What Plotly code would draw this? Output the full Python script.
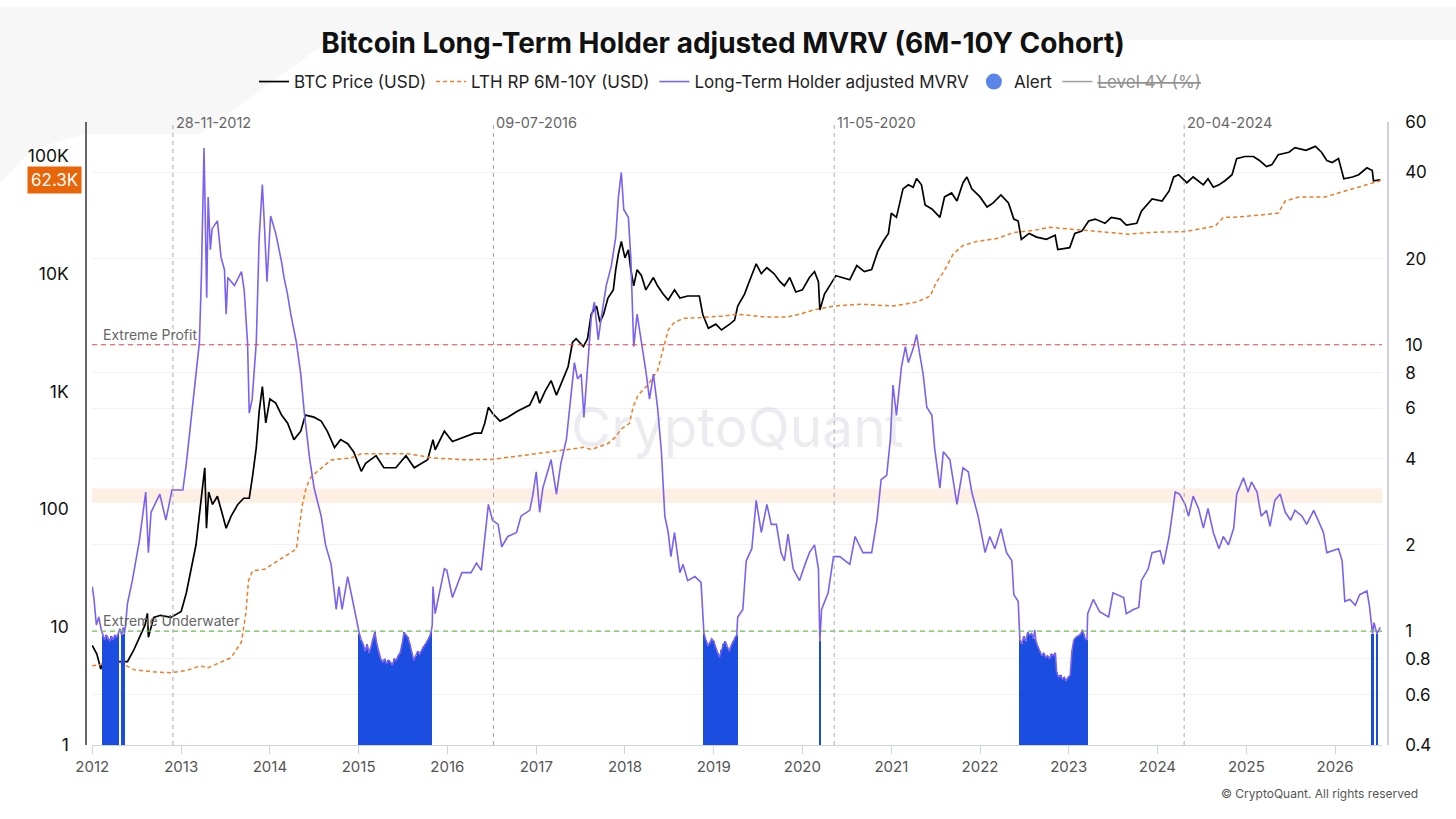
import math
import plotly.graph_objects as go

# ---- data ----
# BTC price (USD), left log axis
btc_price = [
    ("2012-01-01", 7.0), ("2012-01-20", 5.9), ("2012-02-05", 4.4), ("2012-02-20", 5.5),
    ("2012-04-20", 5.1), ("2012-05-25", 5.1), ("2012-06-20", 6.4), ("2012-07-13", 8.2),
    ("2012-08-05", 10.4), ("2012-08-15", 13.1), ("2012-08-19", 8.2), ("2012-09-10", 12.1),
    ("2012-10-08", 12.6), ("2012-11-20", 12.1), ("2013-01-01", 13.6), ("2013-01-22", 19.5),
    ("2013-02-10", 31), ("2013-03-03", 50), ("2013-03-18", 94), ("2013-03-28", 151),
    ("2013-04-08", 225), ("2013-04-15", 69), ("2013-04-24", 140), ("2013-05-10", 110),
    ("2013-05-30", 129), ("2013-06-15", 98), ("2013-07-05", 69), ("2013-07-25", 87),
    ("2013-08-22", 110), ("2013-09-15", 124), ("2013-10-08", 124), ("2013-10-22", 193),
    ("2013-11-06", 333), ("2013-11-18", 680), ("2013-12-01", 1100), ("2013-12-15", 540),
    ("2014-01-01", 861), ("2014-01-25", 795), ("2014-02-18", 630), ("2014-03-15", 537),
    ("2014-04-10", 390), ("2014-05-08", 460), ("2014-05-27", 630), ("2014-07-01", 605),
    ("2014-07-31", 560), ("2014-08-25", 460), ("2014-09-24", 334), ("2014-10-19", 390),
    ("2014-11-17", 360), ("2014-12-12", 307), ("2015-01-12", 210), ("2015-01-30", 245),
    ("2015-03-14", 285), ("2015-04-15", 225), ("2015-06-03", 225), ("2015-07-15", 285),
    ("2015-08-18", 225), ("2015-10-12", 263), ("2015-11-03", 390), ("2015-11-12", 320),
    ("2015-12-20", 460), ("2016-01-22", 376), ("2016-03-10", 407), ("2016-04-22", 442),
    ("2016-05-20", 442), ("2016-06-03", 537), ("2016-06-18", 733), ("2016-07-05", 653),
    ("2016-08-05", 560), ("2016-09-06", 604), ("2016-10-15", 680), ("2016-12-05", 766),
    ("2017-01-01", 1000), ("2017-01-15", 795), ("2017-02-06", 1000), ("2017-03-03", 1236),
    ("2017-03-25", 930), ("2017-04-20", 1280), ("2017-05-12", 1620), ("2017-05-30", 2600),
    ("2017-06-14", 2800), ("2017-07-14", 2400), ("2017-07-31", 2800), ("2017-08-15", 4520),
    ("2017-09-06", 5300), ("2017-09-20", 3880), ("2017-10-05", 4520), ("2017-10-23", 6200),
    ("2017-11-14", 7270), ("2017-11-24", 10800), ("2017-12-05", 14700), ("2017-12-17", 18700),
    ("2018-01-01", 13600), ("2018-01-15", 15900), ("2018-01-25", 10800), ("2018-02-06", 7870),
    ("2018-02-20", 10800), ("2018-03-10", 9600), ("2018-03-28", 7270), ("2018-04-28", 9250),
    ("2018-05-15", 7870), ("2018-06-07", 6700), ("2018-06-28", 5970), ("2018-07-24", 7270),
    ("2018-08-15", 6200), ("2018-09-16", 6450), ("2018-11-03", 6450), ("2018-11-17", 4520),
    ("2018-12-10", 3430), ("2019-01-10", 3720), ("2019-02-02", 3320), ("2019-03-08", 3720),
    ("2019-03-28", 4030), ("2019-04-10", 5300), ("2019-05-08", 6700), ("2019-05-22", 8000),
    ("2019-06-25", 12100), ("2019-07-16", 10000), ("2019-08-08", 11200), ("2019-09-06", 10000),
    ("2019-10-01", 8530), ("2019-10-19", 7870), ("2019-11-10", 9250), ("2019-12-05", 6970),
    ("2020-01-01", 7270), ("2020-01-30", 9250), ("2020-02-20", 10400), ("2020-03-07", 8530),
    ("2020-03-13", 4900), ("2020-04-01", 6700), ("2020-04-22", 7870), ("2020-05-18", 9600),
    ("2020-07-14", 8850), ("2020-08-12", 11700), ("2020-09-12", 10400), ("2020-10-12", 10800),
    ("2020-11-06", 15400), ("2020-11-28", 18700), ("2020-12-20", 21900), ("2021-01-01", 32500),
    ("2021-01-22", 30000), ("2021-02-18", 52300), ("2021-03-12", 56600), ("2021-04-01", 54000),
    ("2021-04-15", 64000), ("2021-05-05", 56600), ("2021-05-20", 38200), ("2021-06-17", 35300),
    ("2021-07-20", 30000), ("2021-08-08", 44700), ("2021-09-06", 48300), ("2021-09-28", 41300),
    ("2021-10-23", 59000), ("2021-11-08", 66000), ("2021-11-28", 52300), ("2022-01-01", 44700),
    ("2022-01-30", 36700), ("2022-02-24", 39800), ("2022-03-28", 46500), ("2022-04-28", 39800),
    ("2022-05-20", 29000), ("2022-06-07", 27900), ("2022-06-20", 19500), ("2022-07-22", 21900),
    ("2022-08-22", 20400), ("2022-10-01", 19500), ("2022-11-06", 21100), ("2022-11-17", 16000),
    ("2023-01-05", 16600), ("2023-01-26", 21900), ("2023-02-24", 22900), ("2023-03-24", 27900),
    ("2023-04-20", 29000), ("2023-05-30", 26700), ("2023-06-25", 30000), ("2023-08-01", 29000),
    ("2023-08-26", 25800), ("2023-10-08", 26700), ("2023-10-27", 33900), ("2023-12-10", 43000),
    ("2024-01-20", 41300), ("2024-02-18", 50200), ("2024-03-08", 66000), ("2024-03-28", 69000),
    ("2024-05-01", 59000), ("2024-05-27", 66000), ("2024-07-08", 56600), ("2024-07-27", 63700),
    ("2024-08-18", 54000), ("2024-09-10", 56600), ("2024-10-05", 61300), ("2024-11-03", 69000),
    ("2024-11-22", 94500), ("2024-12-25", 98500), ("2025-01-30", 98500), ("2025-02-24", 91000),
    ("2025-03-25", 80800), ("2025-04-16", 84000), ("2025-05-12", 102000), ("2025-06-25", 107000),
    ("2025-07-20", 117000), ("2025-09-03", 111000), ("2025-10-12", 120000), ("2025-11-06", 107000),
    ("2025-11-28", 91000), ("2025-12-20", 87500), ("2026-01-15", 94500), ("2026-02-06", 63700),
    ("2026-03-14", 66000), ("2026-04-08", 69000), ("2026-05-12", 79000), ("2026-06-03", 74800),
    ("2026-06-08", 61300), ("2026-07-06", 62300),
]

# LTH realized price 6M-10Y (USD), left log axis
lth_rp = [
    ("2012-01-01", 4.7), ("2012-04-20", 5.07), ("2012-06-20", 4.36), ("2012-09-12", 4.17),
    ("2012-11-20", 4.1), ("2013-01-25", 4.3), ("2013-03-22", 4.7), ("2013-04-20", 4.5),
    ("2013-05-30", 4.9), ("2013-07-25", 5.5), ("2013-09-06", 7.5), ("2013-09-24", 13.1),
    ("2013-10-05", 24.8), ("2013-10-22", 30), ("2013-12-10", 31), ("2014-02-03", 36.6),
    ("2014-03-28", 42.7), ("2014-04-20", 46), ("2014-05-01", 69), ("2014-05-15", 110),
    ("2014-05-30", 152), ("2014-06-18", 186), ("2014-07-16", 210), ("2014-09-10", 262),
    ("2014-12-01", 273), ("2015-01-12", 296), ("2015-04-15", 296), ("2015-07-20", 296),
    ("2015-09-12", 285), ("2015-10-27", 273), ("2016-03-10", 263), ("2016-07-01", 265),
    ("2016-10-30", 285), ("2017-02-18", 307), ("2017-05-12", 321), ("2017-07-20", 336),
    ("2017-08-15", 321), ("2017-10-23", 361), ("2017-11-21", 407), ("2017-12-17", 480),
    ("2018-01-20", 537), ("2018-02-03", 733), ("2018-02-24", 930), ("2018-04-05", 1136),
    ("2018-05-15", 1500), ("2018-06-07", 2230), ("2018-06-28", 3320), ("2018-07-24", 3880),
    ("2018-09-02", 4170), ("2018-11-10", 4230), ("2019-02-02", 4350), ("2019-04-10", 4520),
    ("2019-05-30", 4400), ("2019-08-08", 4270), ("2019-10-27", 4270), ("2019-12-20", 4520),
    ("2020-02-14", 4900), ("2020-05-08", 5300), ("2020-08-26", 5500), ("2021-01-08", 5300),
    ("2021-04-15", 5730), ("2021-06-10", 6450), ("2021-07-06", 8500), ("2021-08-05", 10400),
    ("2021-09-13", 14700), ("2021-10-23", 17300), ("2021-12-17", 18700), ("2022-03-10", 19800),
    ("2022-05-20", 22300), ("2022-08-08", 23200), ("2022-10-15", 24700), ("2022-12-20", 24100),
    ("2023-03-03", 23400), ("2023-05-30", 22400), ("2023-09-03", 21600), ("2023-12-10", 22400),
    ("2024-04-22", 22700), ("2024-06-18", 23800), ("2024-08-26", 25300), ("2024-09-28", 30000),
    ("2024-11-14", 30000), ("2025-02-20", 31300), ("2025-05-12", 32600), ("2025-06-10", 41300),
    ("2025-08-05", 44700), ("2025-11-20", 44700), ("2026-01-15", 48300), ("2026-04-08", 54000),
    ("2026-07-06", 61300),
]

# Long-Term Holder adjusted MVRV, right log axis
lth_mvrv = [
    ("2012-01-01", 1.43), ("2012-01-08", 1.30), ("2012-01-18", 1.05), ("2012-01-28", 1.12),
    ("2012-02-07", 1.01), ("2012-02-14", 0.96), ("2012-02-21", 0.93), ("2012-02-28", 0.97),
    ("2012-03-06", 0.94), ("2012-03-13", 0.92), ("2012-03-20", 0.96), ("2012-03-27", 0.93),
    ("2012-04-03", 0.97), ("2012-04-10", 0.95), ("2012-04-17", 0.98), ("2012-04-24", 1.02),
    ("2012-05-01", 0.97), ("2012-05-08", 1.03), ("2012-05-12", 0.98), ("2012-05-17", 1.05),
    ("2012-05-25", 1.25), ("2012-06-14", 1.50), ("2012-07-13", 2.07), ("2012-08-08", 3.06),
    ("2012-08-19", 1.88), ("2012-08-30", 2.6), ("2012-10-05", 3.01), ("2012-10-30", 2.44),
    ("2012-11-24", 3.11), ("2013-01-08", 3.11), ("2013-01-22", 3.84), ("2013-02-10", 5.33),
    ("2013-03-03", 7.9), ("2013-03-17", 10.2), ("2013-03-25", 17.2), ("2013-04-05", 48.7),
    ("2013-04-16", 14.6), ("2013-04-22", 32.8), ("2013-05-01", 21.5), ("2013-05-08", 25.4),
    ("2013-05-30", 27.1), ("2013-06-14", 20.2), ("2013-06-28", 18.3), ("2013-07-05", 12.8),
    ("2013-07-12", 17.2), ("2013-08-08", 16.1), ("2013-09-06", 18.0), ("2013-09-17", 15.6),
    ("2013-10-01", 10.2), ("2013-10-08", 5.77), ("2013-10-20", 6.46), ("2013-11-06", 10.2),
    ("2013-11-18", 23.7), ("2013-12-01", 36.3), ("2013-12-08", 27.8), ("2013-12-20", 16.6),
    ("2014-01-04", 28.2), ("2014-01-25", 24.5), ("2014-02-18", 19.5), ("2014-02-28", 17.2),
    ("2014-03-14", 15.1), ("2014-03-28", 12.8), ("2014-04-20", 10.2), ("2014-05-08", 7.9),
    ("2014-05-22", 5.86), ("2014-06-14", 3.97), ("2014-07-02", 3.16), ("2014-07-31", 2.52),
    ("2014-08-18", 2.0), ("2014-09-10", 1.71), ("2014-10-01", 1.19), ("2014-10-12", 1.43),
    ("2014-10-25", 1.19), ("2014-11-17", 1.55), ("2014-12-05", 1.31), ("2014-12-20", 1.12),
    ("2015-01-04", 0.98), ("2015-01-12", 0.93), ("2015-01-20", 0.90), ("2015-01-28", 0.85),
    ("2015-02-05", 0.90), ("2015-02-13", 0.84), ("2015-02-21", 0.88), ("2015-03-01", 0.94),
    ("2015-03-09", 0.99), ("2015-03-17", 0.90), ("2015-03-25", 0.84), ("2015-04-02", 0.80),
    ("2015-04-10", 0.78), ("2015-04-18", 0.80), ("2015-04-26", 0.77), ("2015-05-04", 0.79),
    ("2015-05-12", 0.78), ("2015-05-20", 0.76), ("2015-05-28", 0.80), ("2015-06-05", 0.79),
    ("2015-06-13", 0.82), ("2015-06-21", 0.84), ("2015-06-29", 0.90), ("2015-07-07", 0.99),
    ("2015-07-15", 0.97), ("2015-07-23", 0.95), ("2015-07-31", 0.90), ("2015-08-08", 0.84),
    ("2015-08-16", 0.79), ("2015-08-24", 0.82), ("2015-09-01", 0.85), ("2015-09-09", 0.83),
    ("2015-09-17", 0.86), ("2015-09-25", 0.88), ("2015-10-03", 0.90), ("2015-10-11", 0.92),
    ("2015-10-19", 0.95), ("2015-10-26", 0.99), ("2015-10-31", 1.05), ("2015-11-03", 1.43),
    ("2015-11-12", 1.15), ("2015-12-20", 1.65), ("2015-12-30", 1.63), ("2016-01-22", 1.31),
    ("2016-03-01", 1.60), ("2016-04-08", 1.60), ("2016-04-30", 1.73), ("2016-05-20", 1.63),
    ("2016-06-03", 2.14), ("2016-06-18", 2.77), ("2016-07-05", 2.44), ("2016-07-28", 2.36),
    ("2016-08-12", 1.97), ("2016-09-06", 2.14), ("2016-10-12", 2.21), ("2016-10-30", 2.52),
    ("2016-12-05", 2.64), ("2016-12-17", 2.96), ("2017-01-01", 3.60), ("2017-01-15", 2.60),
    ("2017-01-28", 3.16), ("2017-03-03", 3.97), ("2017-03-25", 3.01), ("2017-04-12", 3.84),
    ("2017-05-05", 4.67), ("2017-05-20", 6.05), ("2017-06-07", 8.67), ("2017-06-20", 7.6),
    ("2017-07-05", 7.9), ("2017-07-16", 5.58), ("2017-07-31", 8.1), ("2017-08-15", 12.4),
    ("2017-08-28", 14.1), ("2017-09-13", 10.4), ("2017-09-25", 12.4), ("2017-10-16", 16.1),
    ("2017-11-06", 18.9), ("2017-11-24", 23.8), ("2017-12-05", 32.8), ("2017-12-17", 40),
    ("2017-12-27", 29.7), ("2018-01-15", 27.9), ("2018-01-25", 20.2), ("2018-02-06", 9.86),
    ("2018-02-20", 12.8), ("2018-03-10", 10.2), ("2018-03-28", 8.1), ("2018-04-12", 6.46),
    ("2018-04-28", 7.9), ("2018-05-15", 6.05), ("2018-05-31", 4.23), ("2018-06-14", 2.52),
    ("2018-06-28", 2.21), ("2018-07-09", 1.82), ("2018-07-24", 2.21), ("2018-08-15", 1.60),
    ("2018-08-28", 1.71), ("2018-09-16", 1.50), ("2018-10-16", 1.55), ("2018-11-10", 1.48),
    ("2018-11-22", 0.98), ("2018-11-30", 0.93), ("2018-12-08", 0.89), ("2018-12-16", 0.91),
    ("2018-12-24", 0.94), ("2019-01-01", 0.92), ("2019-01-09", 0.87), ("2019-01-17", 0.84),
    ("2019-01-25", 0.81), ("2019-02-02", 0.86), ("2019-02-10", 0.90), ("2019-02-18", 0.92),
    ("2019-02-26", 0.88), ("2019-03-06", 0.85), ("2019-03-14", 0.89), ("2019-03-22", 0.92),
    ("2019-03-30", 0.95), ("2019-04-06", 0.97), ("2019-04-10", 1.12), ("2019-05-01", 1.19),
    ("2019-05-15", 1.76), ("2019-06-07", 1.94), ("2019-06-25", 2.86), ("2019-07-16", 2.21),
    ("2019-08-08", 2.77), ("2019-08-26", 2.36), ("2019-09-16", 2.36), ("2019-10-05", 1.88),
    ("2019-10-19", 1.76), ("2019-11-03", 2.18), ("2019-11-24", 1.65), ("2019-12-20", 1.50),
    ("2020-01-12", 1.71), ("2020-01-30", 1.88), ("2020-02-20", 2.0), ("2020-03-07", 1.65),
    ("2020-03-13", 0.92), ("2020-03-20", 1.19), ("2020-04-16", 1.36), ("2020-05-08", 1.82),
    ("2020-06-03", 1.82), ("2020-07-14", 1.71), ("2020-08-05", 2.14), ("2020-09-06", 1.88),
    ("2020-10-12", 1.88), ("2020-11-03", 2.44), ("2020-11-20", 3.38), ("2020-12-13", 3.5),
    ("2020-12-28", 4.67), ("2021-01-08", 7.23), ("2021-01-22", 5.67), ("2021-02-12", 8.4),
    ("2021-02-28", 9.86), ("2021-03-12", 8.67), ("2021-04-01", 9.7), ("2021-04-15", 10.86),
    ("2021-04-28", 9.25), ("2021-05-12", 7.9), ("2021-05-27", 6.05), ("2021-06-17", 5.67),
    ("2021-06-28", 4.37), ("2021-07-20", 3.16), ("2021-08-03", 4.23), ("2021-08-30", 3.97),
    ("2021-09-28", 2.77), ("2021-10-23", 3.72), ("2021-11-14", 3.60), ("2021-11-28", 3.06),
    ("2021-12-24", 2.52), ("2022-01-22", 1.88), ("2022-02-10", 2.14), ("2022-03-03", 1.94),
    ("2022-03-28", 2.28), ("2022-04-20", 1.88), ("2022-05-12", 1.76), ("2022-05-20", 1.34),
    ("2022-06-07", 1.27), ("2022-06-14", 0.93), ("2022-06-22", 0.90), ("2022-06-30", 0.96),
    ("2022-07-08", 0.92), ("2022-07-16", 0.99), ("2022-07-24", 0.97), ("2022-08-01", 0.98),
    ("2022-08-09", 0.94), ("2022-08-14", 1.01), ("2022-08-19", 0.92), ("2022-08-27", 0.88),
    ("2022-09-04", 0.85), ("2022-09-12", 0.82), ("2022-09-20", 0.84), ("2022-09-28", 0.81),
    ("2022-10-06", 0.82), ("2022-10-14", 0.80), ("2022-10-22", 0.83), ("2022-10-30", 0.82),
    ("2022-11-07", 0.84), ("2022-11-12", 0.72), ("2022-11-20", 0.69), ("2022-11-28", 0.70),
    ("2022-12-06", 0.68), ("2022-12-14", 0.69), ("2022-12-22", 0.67), ("2022-12-30", 0.69),
    ("2023-01-07", 0.70), ("2023-01-14", 0.85), ("2023-01-22", 0.93), ("2023-01-30", 0.95),
    ("2023-02-07", 0.96), ("2023-02-15", 0.97), ("2023-02-23", 0.99), ("2023-02-26", 1.01),
    ("2023-03-03", 0.98), ("2023-03-10", 0.94), ("2023-03-17", 0.93), ("2023-03-20", 1.15),
    ("2023-04-12", 1.29), ("2023-05-08", 1.17), ("2023-06-14", 1.12), ("2023-07-02", 1.36),
    ("2023-08-15", 1.31), ("2023-08-26", 1.15), ("2023-09-24", 1.19), ("2023-10-16", 1.21),
    ("2023-10-27", 1.50), ("2023-11-24", 1.65), ("2023-12-10", 1.88), ("2024-01-12", 1.91),
    ("2024-01-26", 1.71), ("2024-02-18", 2.14), ("2024-03-01", 2.52), ("2024-03-14", 3.06),
    ("2024-04-01", 3.01), ("2024-04-24", 2.77), ("2024-05-08", 2.52), ("2024-05-27", 2.96),
    ("2024-06-18", 2.68), ("2024-07-08", 2.29), ("2024-07-27", 2.68), ("2024-08-18", 2.21),
    ("2024-09-10", 1.94), ("2024-09-28", 2.14), ("2024-10-19", 2.0), ("2024-11-10", 2.29),
    ("2024-11-22", 3.01), ("2024-12-20", 3.43), ("2025-01-08", 3.06), ("2025-01-22", 3.32),
    ("2025-02-14", 3.06), ("2025-03-03", 2.52), ("2025-03-25", 2.64), ("2025-04-08", 2.32),
    ("2025-04-28", 2.86), ("2025-05-20", 3.01), ("2025-06-10", 2.60), ("2025-07-02", 2.44),
    ("2025-07-20", 2.64), ("2025-08-18", 2.52), ("2025-09-06", 2.36), ("2025-10-05", 2.64),
    ("2025-10-23", 2.44), ("2025-11-14", 2.21), ("2025-11-28", 1.88), ("2025-12-24", 1.91),
    ("2026-01-15", 1.94), ("2026-01-30", 1.76), ("2026-02-10", 1.27), ("2026-03-03", 1.29),
    ("2026-03-25", 1.23), ("2026-04-12", 1.34), ("2026-05-12", 1.38), ("2026-05-22", 1.23),
    ("2026-06-04", 0.98), ("2026-06-10", 1.07), ("2026-06-22", 0.98), ("2026-07-06", 1.03),
]

halving_dates = ["2012-11-28", "2016-07-09", "2020-05-11", "2024-04-20"]
halving_labels = ["28-11-2012", "09-07-2016", "11-05-2020", "20-04-2024"]

extreme_profit = 10
extreme_underwater = 1
band_low, band_high = 2.8, 3.15

price_ticks = [1, 10, 100, 1000, 10000, 100000]
price_tick_text = ["1", "10", "100", "1K", "10K", "100K"]
mvrv_ticks = [0.4, 0.6, 0.8, 1, 2, 4, 6, 8, 10, 20, 40, 60]
year_ticks = [f"{y}-01-01" for y in range(2012, 2027)]

# ---- layout geometry (pixels of the 1456x819 page) ----
W, H = 1456, 819
L, R, T, B = 86, 1388, 116, 745


def px(x):
    return (x - L) / (R - L)


def py(y):
    return (B - y) / (B - T)


btc_x, btc_y = zip(*btc_price)
rp_x, rp_y = zip(*lth_rp)
mv_x, mv_y = zip(*lth_mvrv)
alert_x = [d for d, v in lth_mvrv if v < 1]
alert_y = [v for d, v in lth_mvrv if v < 1]

FONT = "Inter, Roboto, sans-serif"

fig = go.Figure()

fig.add_trace(go.Bar(
    x=alert_x, y=alert_y, yaxis="y2", name="Alert", showlegend=False,
    width=8.5 * 86400000, marker=dict(color="#1a4de0", line=dict(width=0)),
    hoverinfo="skip",
))
fig.add_trace(go.Scatter(
    x=btc_x, y=btc_y, name="BTC Price (USD)", mode="lines",
    line=dict(color="#000000", width=1.7), legendrank=1,
))
fig.add_trace(go.Scatter(
    x=rp_x, y=rp_y, name="LTH RP 6M-10Y (USD)", mode="lines",
    line=dict(color="#f07b22", width=1.5, dash="4px,3px"), legendrank=2,
))
fig.add_trace(go.Scatter(
    x=mv_x, y=mv_y, name="Long-Term Holder adjusted MVRV", mode="lines", yaxis="y2",
    line=dict(color="#7b61f0", width=1.6), legendrank=3,
))
fig.add_trace(go.Scatter(
    x=[None], y=[None], name="Alert", mode="markers", yaxis="y2",
    marker=dict(color="#5b86e8", size=16, symbol="circle"), legendrank=4,
))
fig.add_trace(go.Scatter(
    x=[None], y=[None], name="<s>Level 4Y (%)</s>", mode="lines", yaxis="y2",
    line=dict(color="#444444", width=1.5), visible="legendonly", legendrank=5,
))

shapes = [
    # page decoration top / top-left
    dict(type="path", xref="paper", yref="paper", layer="below",
         path=(f"M {px(0)},{py(0)} L {px(W)},{py(0)} L {px(W)},{py(33)} "
               f"L {px(330)},{py(33)} L {px(200)},{py(128)} L {px(86)},{py(128)} "
               f"L {px(33)},{py(143)} L {px(0)},{py(178)} Z"),
         fillcolor="#f7f7f8", line=dict(width=0)),
    dict(type="rect", xref="x domain", yref="y2", x0=0, x1=1, y0=band_low, y1=band_high,
         fillcolor="#fdefe3", line=dict(width=0), layer="below"),
    dict(type="line", xref="x domain", yref="y2", x0=0, x1=1,
         y0=extreme_profit, y1=extreme_profit,
         line=dict(color="#e8474b", width=1.1, dash="5px,4px")),
    dict(type="line", xref="x domain", yref="y2", x0=0, x1=1,
         y0=extreme_underwater, y1=extreme_underwater,
         line=dict(color="#6cbf4a", width=1.1, dash="5px,4px")),
]
annotations = []
for d, lab in zip(halving_dates, halving_labels):
    shapes.append(dict(type="line", xref="x", yref="paper", x0=d, x1=d, y0=0, y1=1,
                       line=dict(color="#a8a8b0", width=1, dash="4px,4px")))
    annotations.append(dict(x=d, y=1, xref="x", yref="paper", text=lab, showarrow=False,
                            xanchor="left", yanchor="middle", xshift=1,
                            font=dict(family=FONT, size=14.5, color="#666666")))

annotations += [
    dict(x=px(101), y=math.log10(extreme_profit), xref="paper", yref="y2",
         text="Extreme Profit", showarrow=False, xanchor="left", yanchor="bottom",
         font=dict(family=FONT, size=14, color="#666666")),
    dict(x=px(101), y=math.log10(extreme_underwater), xref="paper", yref="y2",
         text="Extreme Underwater", showarrow=False, xanchor="left", yanchor="bottom",
         font=dict(family=FONT, size=14, color="#666666")),
    # last price badge
    dict(x=px(82), y=math.log10(btc_y[-1]), xref="paper", yref="y",
         text=f"{btc_y[-1] / 1000:.1f}K", showarrow=False, xanchor="right", yanchor="middle",
         bgcolor="#e8650a", borderpad=3, font=dict(family=FONT, size=17, color="#ffffff")),
    # watermark
    dict(x=px(737), y=py(424), xref="paper", yref="paper", text="CryptoQuant",
         showarrow=False, xanchor="center", yanchor="middle",
         font=dict(family=FONT, size=55, color="rgba(150,150,170,0.18)")),
    dict(x=px(1420), y=py(794), xref="paper", yref="paper",
         text="© CryptoQuant. All rights reserved", showarrow=False,
         xanchor="right", yanchor="middle",
         font=dict(family=FONT, size=12, color="#555555")),
]

fig.update_layout(
    width=W, height=H,
    margin=dict(l=L, r=W - R, t=T, b=H - B, pad=0),
    paper_bgcolor="#ffffff", plot_bgcolor="#ffffff",
    font=dict(family=FONT, size=14, color="#222222"),
    title=dict(text="<b>Bitcoin Long-Term Holder adjusted MVRV (6M-10Y Cohort)</b>",
               x=723 / W, xref="container", xanchor="center",
               y=1 - 43 / H, yref="container", yanchor="middle",
               font=dict(family=FONT, size=28, color="#111111")),
    legend=dict(orientation="h", x=730 / W, xanchor="center", xref="container",
                y=1 - 82 / H, yanchor="middle", yref="container",
                font=dict(family=FONT, size=17, color="#222222"),
                itemwidth=30, bgcolor="rgba(0,0,0,0)", traceorder="normal"),
    showlegend=True,
    bargap=0,
    shapes=shapes,
    annotations=annotations,
    xaxis=dict(type="date", domain=[px(92), px(1382)],
               range=["2011-12-31", "2026-07-13"],
               tickvals=year_ticks, tickformat="%Y",
               showgrid=False, zeroline=False,
               showline=True, linecolor="#ccd3e6", linewidth=1,
               ticks="outside", ticklen=8, tickcolor="#ccd3e6",
               tickfont=dict(family=FONT, size=15, color="#555555")),
    yaxis=dict(type="log", range=[0, math.log10(193000)],
               anchor="free", position=0, side="left",
               tickvals=price_ticks, ticktext=price_tick_text,
               showgrid=False, zeroline=False,
               showline=True, linecolor="#666666", linewidth=1.5,
               ticks="", ticklabelstandoff=13,
               tickfont=dict(family=FONT, size=17.5, color="#111111")),
    yaxis2=dict(type="log", range=[math.log10(0.4), math.log10(60)],
                overlaying="y", anchor="free", position=1, side="right",
                tickvals=mvrv_ticks, ticktext=[f"{t:g}" for t in mvrv_ticks],
                showgrid=True, gridcolor="#f2f2f4", gridwidth=1, zeroline=False,
                showline=True, linecolor="#ccd0e3", linewidth=1.5,
                ticks="", ticklabelstandoff=13,
                tickfont=dict(family=FONT, size=17, color="#111111")),
)

# the page's default body margin would shift the figure by 8px
fig.write_html("out.html", config={"displayModeBar": False},
               post_script="document.body.style.margin='0';")
